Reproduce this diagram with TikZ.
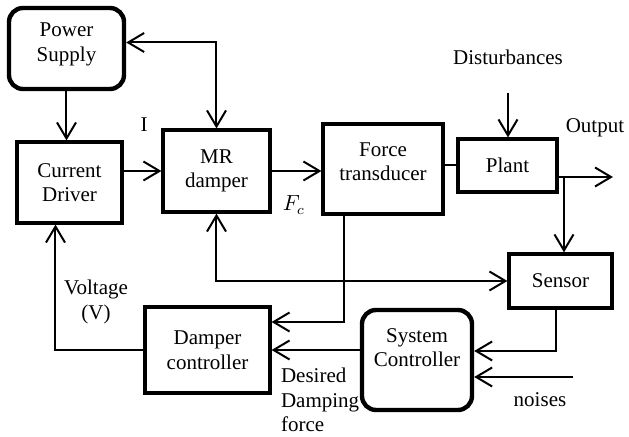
\documentclass[tikz,border=0pt]{standalone}
\usepackage{fontspec}
\setmainfont{Liberation Serif}
\usetikzlibrary{arrows.meta}

\begin{document}
\begin{tikzpicture}[x=0.5pt,y=-0.5pt,
  font=\fontsize{10.5}{12.3}\selectfont,
  every node/.style={align=center},
  link/.style={line width=1pt, -{Straight Barb[length=8pt,width=9.5pt,line width=1pt]}},
  twoway/.style={line width=1pt, {Straight Barb[length=8pt,width=9.5pt,line width=1pt]}-{Straight Barb[length=8pt,width=9.5pt,line width=1pt]}}]
 \useasboundingbox (0,0) rectangle (629,437);
 \begin{scope}[every node/.style={draw, line width=1.6pt, align=center, inner sep=0pt}]
  \node[minimum width=52.5pt, minimum height=40.5pt] (cd) at (69.5,182.5) {Current\\Driver};
  \node[minimum width=53.5pt, minimum height=41pt] (mr) at (216.5,171) {MR\\damper};
  \node[minimum width=60pt, minimum height=45pt] (ft) at (383,169) {Force\\transducer\\[-5pt]};
  \node[minimum width=49.5pt, minimum height=26.5pt] (plant) at (507.5,165.5) {Plant};
  \node[minimum width=51.5pt, minimum height=27pt] (sensor) at (560.5,281) {Sensor};
  \node[minimum width=62.5pt, minimum height=43pt] (dc) at (207.5,350) {Damper\\controller};
 \end{scope}
 \begin{scope}[every node/.style={draw, line width=2.2pt, rounded corners=7pt, align=center, inner sep=0pt}]
  \node[minimum width=57.5pt, minimum height=40.5pt] (ps) at (66.5,48.5) {Power\\Supply\\[-6pt]};
  \node[minimum width=55pt, minimum height=50pt] (sc) at (417,360) {System\\Controller\\~};
 \end{scope}
 % labels
 \node (lblI) at (144,125) {I};
 \node (lblF) at (294,205) {$F_c$};
 \node (lblOut) at (595,128) {Output};
 \node (lblDist) at (508,57) {Disturbances};
 \node (lblV) at (96,302) {Voltage\\(V)};
 \node[anchor=west, align=left] (lblDes) at (274,400) {Desired\\Damping\\force};
 \node (lblNoise) at (540,400) {noises};
 % free ends
 \coordinate (out) at (613,177);
 \coordinate (tap) at (564,177);
 \coordinate (dist) at (508,93);
 \coordinate (noise) at (573,377);
 % connectors
 \draw[link] (ps.south) -- (ps.south |- cd.north);
 \draw[twoway] ([yshift=3pt]ps.east) -| (mr.north);
 \draw[link] (cd.east |- mr.west) -- (mr.west);
 \draw[link] (mr.east) -- (ft.west |- mr.east);
 \draw[line width=1pt] (ft.east |- plant.west) -- (plant.west);
 \draw[link] (plant.east |- out) -- (out);
 \draw[link] (dist) -- (dist |- plant.north);
 \draw[link] (tap) -- (tap |- sensor.north);
 \draw[twoway] (mr.south) |- (sensor.west);
 \draw[link] ([xshift=-19.5pt]ft.south) |- ([yshift=14pt]dc.east);
 \draw[link] ([xshift=-2pt]sensor.south) |- ([yshift=4.5pt]sc.east);
 \draw[link] (noise) -- (noise -| sc.east);
 \draw[link] (sc.west |- dc.east) -- (dc.east);
 \draw[link] (dc.west) -| ([xshift=-7pt]cd.south);
\end{tikzpicture}
\end{document}
